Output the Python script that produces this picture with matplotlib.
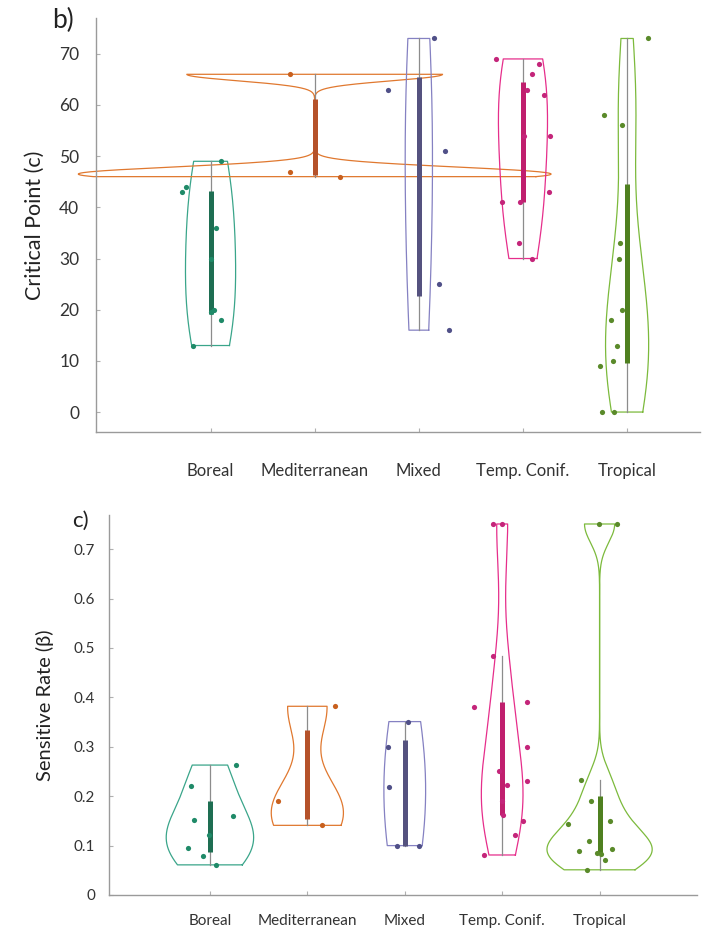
import numpy as np
import matplotlib
matplotlib.use('Agg')
import matplotlib.pyplot as plt

plt.rcParams['font.family'] = ['Lato', 'DejaVu Sans']

categories = ['Boreal', 'Mediterranean', 'Mixed', 'Temp. Conif.', 'Tropical']

# ---- panel b: Critical Point (c) ----
crit_boreal = [13, 18, 19.5, 20, 30, 36, 43, 44, 49]
crit_med = [46, 47, 66]
crit_mixed = [16, 25, 51, 63, 73]
crit_temp = [30, 33, 41, 41, 43, 54, 54, 62, 63, 66, 68, 69]
crit_trop = [0, 0, 9, 10, 13, 18, 20, 30, 33, 56, 58, 73]

# horizontal jitter of the points (category units)
crit_boreal_dx = [-0.17, 0.10, 0.0, 0.03, 0.0, 0.05, -0.27, -0.24, 0.10]
crit_med_dx = [0.24, -0.24, -0.24]
crit_mixed_dx = [0.29, 0.19, 0.25, -0.30, 0.15]
crit_temp_dx = [0.09, -0.04, -0.20, -0.03, 0.25, 0.01, 0.26, 0.20, 0.04, 0.09, 0.15, -0.26]
crit_trop_dx = [-0.24, -0.13, -0.26, -0.14, -0.10, -0.15, -0.05, -0.08, -0.07, -0.05, -0.22, 0.20]

# ---- panel c: Sensitive Rate (beta) ----
rate_boreal = [0.061, 0.078, 0.096, 0.122, 0.151, 0.160, 0.221, 0.263]
rate_med = [0.141, 0.191, 0.382]
rate_mixed = [0.100, 0.100, 0.218, 0.300, 0.351]
rate_temp = [0.081, 0.122, 0.150, 0.162, 0.190, 0.222, 0.231, 0.252, 0.300, 0.381, 0.391, 0.483, 0.751, 0.751]
rate_trop = [0.051, 0.070, 0.083, 0.086, 0.090, 0.094, 0.110, 0.143, 0.150, 0.191, 0.232, 0.751, 0.751]

rate_boreal_dx = [0.06, -0.07, -0.22, -0.01, -0.16, 0.24, -0.19, 0.27]
rate_med_dx = [0.15, -0.30, 0.28]
rate_mixed_dx = [-0.08, 0.15, -0.16, -0.17, 0.03]
rate_temp_dx = [-0.19, 0.13, 0.21, 0.01, 0.0, 0.05, 0.25, -0.03, 0.25, -0.29, 0.25, -0.09, -0.09, 0.0]
rate_trop_dx = [-0.13, 0.06, 0.01, -0.03, -0.21, 0.13, -0.11, -0.32, 0.11, -0.09, -0.19, -0.01, 0.18]

edge_colors = ['#3aa58a', '#e0782f', '#8581c2', '#e62e8b', '#7cba3c']
box_colors = ['#1e6e52', '#b5522a', '#55527f', '#c01f6e', '#4f8020']
pt_colors = ['#1f8a68', '#c8601e', '#505088', '#c4257a', '#5a8a2a']


def bandwidth(x):
    n = len(x)
    sig = np.median(np.abs(x - np.median(x))) / 0.6745
    if sig <= 0:
        sig = np.std(x) if np.std(x) > 0 else 1.0
    return sig * (4.0 / (3.0 * n)) ** 0.2


def kde(x, grid, h):
    z = (grid[:, None] - x[None, :]) / h
    return np.exp(-0.5 * z ** 2).sum(axis=1) / (len(x) * h * np.sqrt(2 * np.pi))


def draw_panel(ax, groups, offsets, max_halfwidth):
    dens = []
    for g in groups:
        x = np.asarray(g, float)
        grid = np.linspace(x.min(), x.max(), 400)
        dens.append((x, grid, kde(x, grid, bandwidth(x))))
    scale = max_halfwidth / max(d.max() for _, _, d in dens)
    for i, (x, grid, d) in enumerate(dens):
        pos = i + 1
        w = d * scale
        xs = np.concatenate([pos + w, (pos - w)[::-1], [pos + w[0]]])
        ys = np.concatenate([grid, grid[::-1], [grid[0]]])
        ax.plot(xs, ys, color=edge_colors[i], lw=0.9, clip_on=False, zorder=2)
        q1, q3 = np.quantile(x, [0.25, 0.75], method='hazen')
        iqr = q3 - q1
        lo = x[x >= q1 - 1.5 * iqr].min()
        hi = x[x <= q3 + 1.5 * iqr].max()
        ax.plot([pos, pos], [lo, hi], color='#8c8c8c', lw=0.9, zorder=3)
        ax.plot([pos, pos], [q1, q3], color=box_colors[i], lw=3.6,
                solid_capstyle='butt', zorder=4)
        ax.scatter(pos + np.asarray(offsets[i]), x, s=14, color=pt_colors[i],
                   linewidths=0, zorder=5, clip_on=False)


def style_axes(ax):
    for s in ['top', 'right']:
        ax.spines[s].set_visible(False)
    for s in ['left', 'bottom']:
        ax.spines[s].set_color('#9a9a9a')
        ax.spines[s].set_linewidth(1.0)
    ax.tick_params(direction='in', length=3, color='#b0b0b0', labelcolor='#333333')
    ax.set_xticks(range(1, len(categories) + 1))
    ax.set_xticklabels(categories)


fig = plt.figure(figsize=(7.21, 9.32), dpi=100)

# Panel b
ax1 = fig.add_axes([96 / 721, 1 - 432 / 932, 604 / 721, 414 / 932])
draw_panel(ax1, [crit_boreal, crit_med, crit_mixed, crit_temp, crit_trop],
           [crit_boreal_dx, crit_med_dx, crit_mixed_dx, crit_temp_dx, crit_trop_dx], 2.27)
ax1.set_xlim(-0.1, 5.7)
ax1.set_ylim(-3.9, 77)
ax1.set_yticks(range(0, 71, 10))
style_axes(ax1)
ax1.tick_params(axis='x', pad=22, labelsize=12)
ax1.tick_params(axis='y', pad=12, labelsize=12.5)
ax1.set_ylabel('Critical Point (c)', fontsize=15.5, color='#222222', labelpad=10)
fig.text(52 / 721, 1 - 20 / 932, 'b)', fontsize=19, color='#222222', va='center', ha='left')

# Panel c
ax2 = fig.add_axes([109 / 721, 1 - 895 / 932, 588 / 721, 380.4 / 932])
draw_panel(ax2, [rate_boreal, rate_med, rate_mixed, rate_temp, rate_trop],
           [rate_boreal_dx, rate_med_dx, rate_mixed_dx, rate_temp_dx, rate_trop_dx], 0.54)
ax2.set_xlim(-0.036, 6.0)
ax2.set_ylim(0, 0.77)
ax2.set_yticks(np.round(np.arange(0, 0.71, 0.1), 1))
ax2.set_yticklabels(['0'] + ['%.1f' % v for v in np.arange(0.1, 0.71, 0.1)])
style_axes(ax2)
ax2.tick_params(axis='x', pad=14, labelsize=11)
ax2.tick_params(axis='y', pad=10, labelsize=11)
ax2.set_ylabel('Sensitive Rate (\u03b2)', fontsize=14.5, color='#222222', labelpad=14)
fig.text(72 / 721, 1 - 521 / 932, 'c)', fontsize=16, color='#222222', va='center', ha='left')

fig.savefig('out.png', dpi=100)
